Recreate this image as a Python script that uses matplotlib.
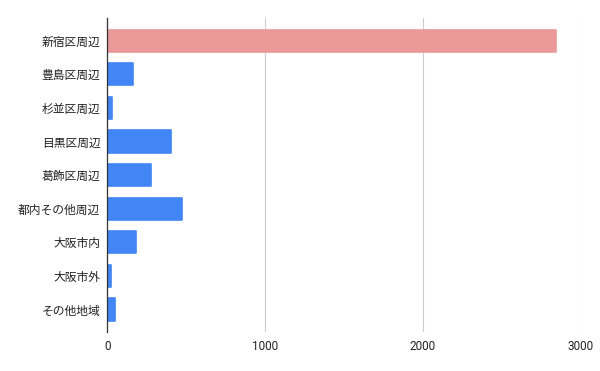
import matplotlib
matplotlib.use("Agg")
import matplotlib.pyplot as plt

categories = ["新宿区周辺", "豊島区周辺", "杉並区周辺", "目黒区周辺", "葛飾区周辺",
              "都内その他周辺", "大阪市内", "大阪市外", "その他地域"]
values = [2840, 160, 27, 400, 279, 475, 184, 22, 46]
bar_colors = ["#ea9999"] + ["#4285f4"] * 8
x_ticks = [0, 1000, 2000, 3000]

plt.rcParams['font.family'] = ['Noto Sans CJK JP', 'DejaVu Sans']

fig = plt.figure(figsize=(6, 3.71), dpi=100)
ax = fig.add_axes([0.179, 0.105, 0.968 - 0.179, 0.951 - 0.105])

ypos = list(range(len(categories)))
ax.barh(ypos, values, height=0.66, color=bar_colors, edgecolor=bar_colors,
        linewidth=1.2, joinstyle='round', zorder=3)

ax.set_ylim(len(categories) - 1 + 0.67, -0.67)
ax.set_xlim(0, 3000)
ax.set_yticks(ypos)
ax.set_yticklabels(categories, fontsize=8.5, color="#222222")
ax.set_xticks(x_ticks)
ax.set_xticklabels([str(t) for t in x_ticks], fontsize=8.5, color="#222222",
                   family=['Roboto', 'DejaVu Sans'])
ax.tick_params(axis='both', length=0)
ax.tick_params(axis='y', pad=5)
ax.tick_params(axis='x', pad=6)

ax.grid(axis='x', color="#cccccc", linewidth=0.8, zorder=0)
for s in ['top', 'right', 'bottom']:
    ax.spines[s].set_visible(False)
ax.spines['left'].set_color("#333333")
ax.spines['left'].set_linewidth(0.9)
ax.spines['left'].set_zorder(4)

fig.savefig("out.png", dpi=100)
